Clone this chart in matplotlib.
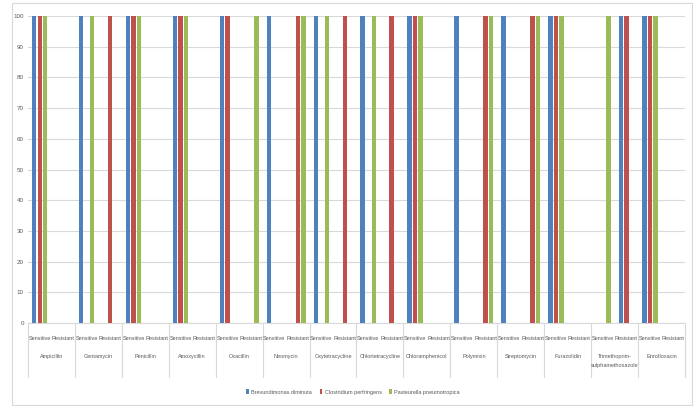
import matplotlib
matplotlib.use("Agg")
import matplotlib.pyplot as plt
from matplotlib.patches import Rectangle
from matplotlib import font_manager
import matplotlib.transforms as mtransforms

installed = {f.name for f in font_manager.fontManager.ttflist}
if 'Liberation Sans Narrow' in installed:
    plt.rcParams['font.family'] = ['Liberation Sans Narrow', 'DejaVu Sans']
    small = 4.6
else:
    plt.rcParams['font.family'] = ['Liberation Sans', 'DejaVu Sans']
    small = 4.0

# data
antibiotics = ["Ampicillin", "Gentamycin", "Penicillin", "Amoxycillin", "Oxacillin",
               "Neomycin", "Oxytetracycline", "Chlortetracycline", "Chloramphenicol",
               "Polymixin", "Streptomycin", "Furazolidin",
               "Trimethoprim-\nsulphamethoxazole", "Enrofloxacin"]
outcomes = ["Sensitive", "Resistant"]
series_names = ["Brevundimonas diminuta", "Clostridium perfringens", "Pasteurella pneumotropica"]

# one value per (antibiotic, outcome): Sensitive, Resistant, Sensitive, Resistant ...
brevundimonas = [100, 0, 100, 0, 100, 0, 100, 0, 100, 0, 100, 0, 100, 0,
                 100, 0, 100, 0, 100, 0, 100, 0, 100, 0, 0, 100, 100, 0]
clostridium = [100, 0, 0, 100, 100, 0, 100, 0, 100, 0, 0, 100, 0, 100,
               0, 100, 100, 0, 0, 100, 0, 100, 100, 0, 0, 100, 100, 0]
pasteurella = [100, 0, 100, 0, 100, 0, 100, 0, 0, 100, 0, 100, 100, 0,
               100, 0, 100, 0, 0, 100, 0, 100, 100, 0, 100, 0, 100, 0]
y_ticks = [0, 10, 20, 30, 40, 50, 60, 70, 80, 90, 100]

colors = ["#4F81BD", "#C0504D", "#9BBB59"]
text_col = "#595959"

fig = plt.figure(figsize=(6.96, 4.07), dpi=100)
ax = fig.add_axes([28 / 696, 1 - 323 / 407, 657 / 696, 307 / 407])

n = len(brevundimonas)
xs = [i + 0.5 for i in range(n)]
offset = 0.235
width = 0.19
for k, (vals, c, name) in enumerate(zip([brevundimonas, clostridium, pasteurella], colors, series_names)):
    ax.bar([x + (k - 1) * offset for x in xs], vals, width=width, color=c, label=name, zorder=3)

ax.set_xlim(0, n)
ax.set_ylim(0, 100)
ax.set_yticks(y_ticks)
ax.tick_params(axis='y', length=0, labelsize=small + 0.5, labelcolor=text_col, pad=3)
ax.set_xticks([])
ax.yaxis.grid(True, color="#D9D9D9", linewidth=0.8, zorder=0)
for s in ["top", "right", "left"]:
    ax.spines[s].set_visible(False)
ax.spines["bottom"].set_color("#D9D9D9")

trans = mtransforms.blended_transform_factory(ax.transData, ax.transAxes)
# category labels
for i in range(n):
    ax.text(xs[i], -16 / 307, outcomes[i % 2], transform=trans, ha='center', va='center',
            fontsize=small, color=text_col)
for j, name in enumerate(antibiotics):
    ax.text(2 * j + 1, -31 / 307, name, transform=trans, ha='center', va='top',
            fontsize=small, color=text_col, linespacing=2.1)
# group separators
for j in range(len(antibiotics) + 1):
    ax.plot([2 * j, 2 * j], [0, -54 / 307], transform=trans, color="#D9D9D9",
            linewidth=0.8, clip_on=False)

fig.legend(loc='center', bbox_to_anchor=(353 / 696, 1 - 392 / 407), ncol=3, frameon=False,
           fontsize=small, handlelength=0.5, handleheight=1.0, handletextpad=0.4,
           columnspacing=1.4, labelcolor=text_col)

fig.add_artist(Rectangle((12 / 696, 2 / 407), 680 / 696, 402 / 407, transform=fig.transFigure,
                         fill=False, edgecolor="#D9D9D9", linewidth=0.8))

fig.savefig("out.png", dpi=100)
